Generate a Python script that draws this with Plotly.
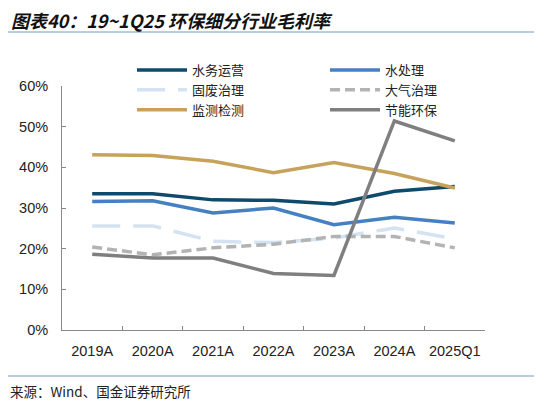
import plotly.graph_objects as go

# Data
categories = ['2019A', '2020A', '2021A', '2022A', '2023A', '2024A', '2025Q1']

water_ops = [33.5, 33.5, 32.0, 31.9, 31.0, 34.1, 35.3]      # 水务运营
water_treat = [31.6, 31.8, 28.8, 30.0, 25.9, 27.7, 26.3]    # 水处理
solid_waste = [25.6, 25.6, 21.8, 21.5, 22.6, 25.1, 22.4]    # 固废治理
air_treat = [20.4, 18.5, 20.2, 21.1, 23.0, 23.0, 20.2]      # 大气治理
monitoring = [43.1, 42.9, 41.5, 38.7, 41.2, 38.5, 34.9]     # 监测检测
energy_env = [18.6, 17.7, 17.7, 13.9, 13.4, 51.4, 46.5]     # 节能环保

y_ticks = [0, 10, 20, 30, 40, 50, 60]

# page body has an 8px margin, so the figure is drawn 8px smaller/shifted
OFF = 8
W, H = 542 - OFF, 404 - OFF
L, T = 62 - OFF, 86 - OFF
R = W - (485 - OFF)
B = H - (330 - OFF)


def px_x(p):
    # p is a screen pixel of the reference picture
    return (p - OFF - L) / (W - L - R)


def px_y(p):
    return (H - B - (p - OFF)) / (H - T - B)


fig = go.Figure()

series = [
    ('水务运营', water_ops, '#0E4A6B', 'solid'),
    ('水处理', water_treat, '#4480C2', 'solid'),
    ('固废治理', solid_waste, '#D3E3F2', '28px,13px'),
    ('大气治理', air_treat, '#B3B3B3', '10px,5px'),
    ('监测检测', monitoring, '#C7A25A', 'solid'),
    ('节能环保', energy_env, '#7F7F7F', 'solid'),
]

for name, vals, color, dash in series:
    fig.add_trace(go.Scatter(
        x=categories, y=vals, name=name, mode='lines',
        line=dict(color=color, width=3.5, dash=dash),
    ))

fig.update_layout(
    width=W, height=H,
    margin=dict(l=L, r=R, t=T, b=B),
    paper_bgcolor='white', plot_bgcolor='white',
    font=dict(family='Liberation Sans, Arial', size=14.5, color='#222222'),
    showlegend=True,
    legend=dict(
        orientation='h', x=px_x(132), y=px_y(55), xanchor='left', yanchor='top',
        entrywidth=128, itemwidth=50, traceorder='normal',
        font=dict(family='Noto Sans CJK SC', size=13, color='#222222'),
        bgcolor='rgba(0,0,0,0)',
    ),
)

fig.update_xaxes(
    range=[-0.5, len(categories) - 0.5], tickangle=0,
    showgrid=False, showline=True, linecolor='#888888', linewidth=1,
    ticks='inside', tickson='boundaries', ticklen=4, tickcolor='#888888',
    ticklabelstandoff=8,
    tickfont=dict(size=14.5, color='#222222'),
)
fig.update_yaxes(
    range=[0, 60], tickvals=y_ticks, ticktext=[f'{v}%' for v in y_ticks],
    showgrid=False, showline=True, linecolor='#888888', linewidth=1,
    ticks='inside', ticklen=4, tickcolor='#888888', zeroline=False,
    ticklabelstandoff=10,
    tickfont=dict(size=14.5, color='#222222'),
)

# title and source text
fig.add_annotation(
    text='<b><i>图表40：19~1Q25 环保细分行业毛利率</i></b>',
    xref='paper', yref='paper', x=px_x(9), y=px_y(20),
    xanchor='left', yanchor='middle', showarrow=False,
    font=dict(family='Noto Sans CJK SC', size=18, color='#111111'),
)
fig.add_annotation(
    text='来源：Wind、国金证券研究所',
    xref='paper', yref='paper', x=px_x(8), y=px_y(391),
    xanchor='left', yanchor='middle', showarrow=False,
    font=dict(family='Noto Sans CJK SC', size=13.5, color='#222222'),
)

# separator rules
for yy in (32, 376):
    fig.add_shape(
        type='line', xref='paper', yref='paper',
        x0=px_x(5), x1=px_x(537), y0=px_y(yy), y1=px_y(yy),
        line=dict(color='#6F9BC3', width=1),
    )

fig.write_html("out.html")
